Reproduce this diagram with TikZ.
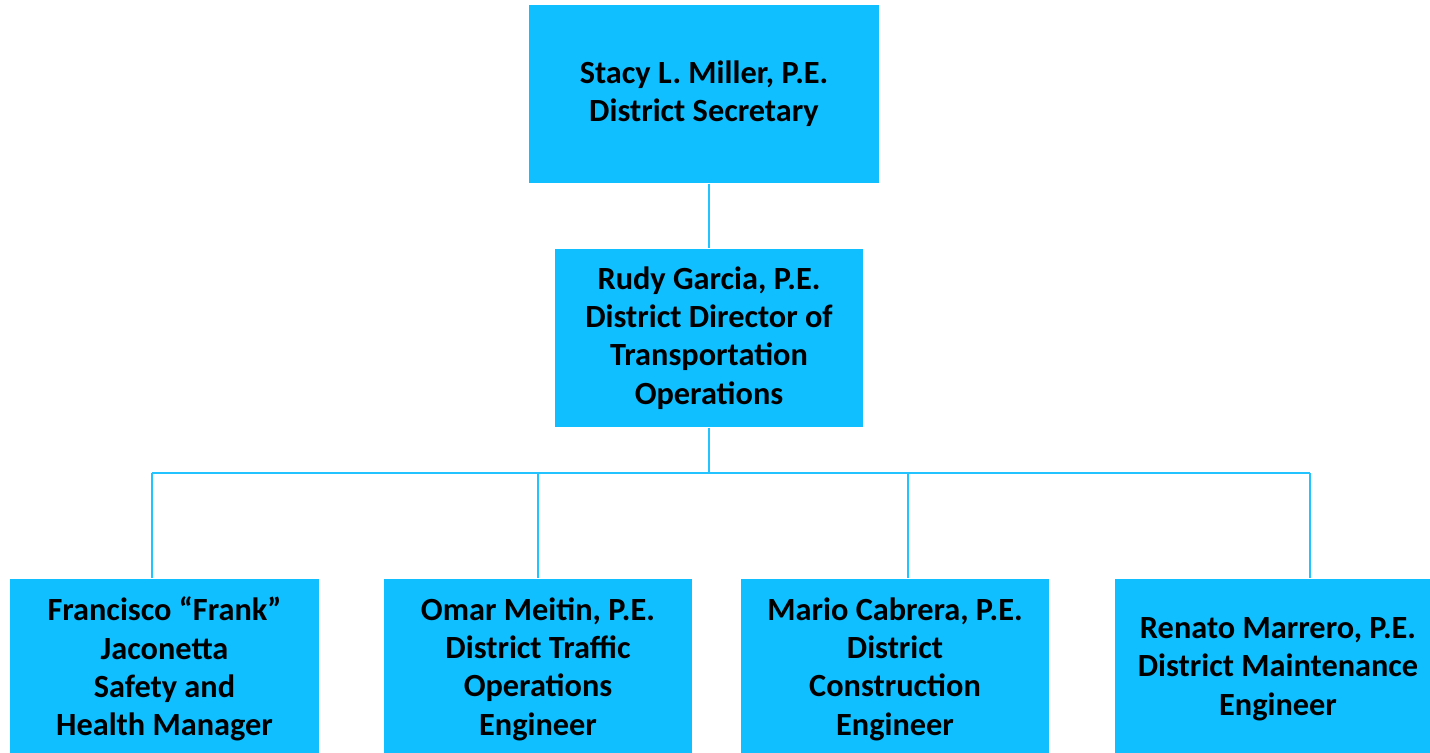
\documentclass[tikz,border=0pt]{standalone}
\usepackage{fontspec}
\setmainfont{Carlito}
\definecolor{boxcyan}{HTML}{10BFFF}
\definecolor{linecyan}{HTML}{22C3FF}
\begin{document}
\begin{tikzpicture}[
    person/.style={fill=boxcyan, align=center, inner sep=0pt, minimum width=3.08cm, minimum height=1.78cm,
        font=\fontsize{9.2pt}{10.9pt}\selectfont\bfseries},
    link/.style={draw=linecyan, line width=0.6pt}
]
    \useasboundingbox (0,0) rectangle (14.30,-7.52);
    \clip (0,0) rectangle (14.30,-7.52);

    % Secretary at top
    \node[person, minimum width=3.50cm] (secretary) at (7.04,-0.94) {Stacy L. Miller, P.E.\\District Secretary};

    % Director below
    \node[person] (director) at (7.09,-3.38) {Rudy Garcia, P.E.\\District Director of\\Transportation\\Operations};

    % Engineers and manager in the bottom row
    \node[person, minimum width=3.09cm, minimum height=1.80cm] (safety) at (1.645,-6.69) {Francisco ``Frank''\\Jaconetta\\Safety and\\Health Manager};
    \node[person, minimum height=1.80cm] (traffic) at (5.38,-6.69) {Omar Meitin, P.E.\\District Traffic\\Operations\\Engineer};
    \node[person, minimum height=1.80cm] (construction) at (8.95,-6.69) {Mario Cabrera, P.E.\\District\\Construction\\Engineer};
    \node[person, minimum width=3.26cm, minimum height=1.80cm] (maintenance) at (12.78,-6.69) {Renato Marrero, P.E.\\District Maintenance\\Engineer};

    % Bus line corners
    \coordinate (bus1) at (1.52,-4.73);
    \coordinate (bus2) at (5.38,-4.73);
    \coordinate (bus3) at (9.08,-4.73);
    \coordinate (bus4) at (13.10,-4.73);

    % Connections
    \draw[link] (secretary.south -| director.north) -- (director.north);
    \draw[link] (director.south) -- (director.south |- bus1);
    \draw[link] (bus1) -- (bus4);
    \foreach \b/\n in {bus1/safety,bus2/traffic,bus3/construction,bus4/maintenance}
        \draw[link] (\b) -- (\b |- \n.north);

\end{tikzpicture}
\end{document}
